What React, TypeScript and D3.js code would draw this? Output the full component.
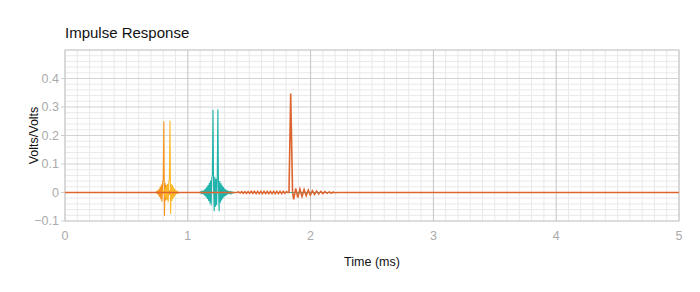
import React from "react";
import * as d3 from "d3";

// ---- data ----
const xTicks = [0, 1, 2, 3, 4, 5];
const yTicks = [-0.1, 0, 0.1, 0.2, 0.3, 0.4];
const xDomain = [0, 5];
const yDomain = [-0.1, 0.5];

// orange burst (sampled every 0.005 ms starting at 0.740 ms)
const orangeStart = 0.74;
const orangeStep = 0.005;
const orangeValues = [
  0, 0.003, -0.005, 0.007, -0.009, 0.012, -0.016, 0.02, -0.024, 0.028, -0.032,
  0.035, 0.045, 0.25, -0.082, 0.033, -0.028, 0.026, -0.022, 0.018, -0.014, 0.011,
  -0.008, 0.006, -0.005, 0.004, -0.003, 0.002, 0,
];

// gold burst (every 0.005 ms from 0.790 ms)
const goldStart = 0.79;
const goldStep = 0.005;
const goldValues = [
  0, 0.003, -0.005, 0.008, -0.011, 0.014, -0.018, 0.022, -0.026, 0.03, -0.034,
  0.036, 0.045, 0.252, -0.075, 0.03, -0.03, 0.026, -0.022, 0.018, -0.015, 0.012,
  -0.009, 0.007, -0.005, 0.003, -0.002, 0,
];

// teal burst (every 0.005 ms from 1.100 ms)
const tealStart = 1.1;
const tealStep = 0.005;
const tealValues = [
  0, 0.002, -0.003, 0.004, -0.005, 0.006, -0.008, 0.01, -0.012, 0.014, -0.017,
  0.02, -0.023, 0.026, -0.03, 0.034, -0.038, 0.042, -0.046, 0.05, 0.06, 0.29,
  0.02, -0.066, 0.055, -0.05, 0.048, -0.045, 0.06, 0.292, 0.02, -0.066, 0.04,
  -0.036, 0.032, -0.028, 0.025, -0.022, 0.019, -0.016, 0.014, -0.012, 0.01,
  -0.009, 0.008, -0.007, 0.006, -0.005, 0.004, -0.004, 0.003, -0.003, 0.002,
  -0.002, 0.001, -0.001, 0,
];

// red-orange: small ripple before the main spike (every 0.013 ms from 1.400 ms)
const redPreStart = 1.4;
const redPreStep = 0.013;
const redPreValues = [
  0, 0.002, -0.002, 0.003, -0.003, 0.003, -0.003, 0.003, -0.003, 0.004, -0.003,
  0.004, -0.004, 0.004, -0.004, 0.004, -0.004, 0.004, -0.004, 0.004, -0.004,
  0.004, -0.004, 0.004, -0.004, 0.004, -0.004, 0.004, -0.004, 0.004, -0.003,
  0.003, 0.0,
];
// main spike
const redSpikeTimes = [1.824, 1.838, 1.853];
const redSpikeValues = [0.0, 0.347, 0.0];
// ringing after the spike (every 0.017 ms from 1.862 ms)
const redPostStart = 1.862;
const redPostStep = 0.017;
const redPostValues = [
  -0.024, 0.014, -0.018, 0.012, -0.014, 0.01, -0.011, 0.008, -0.009, 0.006,
  -0.007, 0.005, -0.005, 0.004, -0.004, 0.003, -0.003, 0.002, -0.002, 0.001,
  -0.001, 0,
];

type Pt = [number, number];

function uniform(start: number, step: number, values: number[]): Pt[] {
  return values.map((v, i) => [start + i * step, v] as Pt);
}

const W = 700;
const H = 292;
const M = { left: 65, right: 21, top: 50, bottom: 71 };

export default function App() {
  const x = d3.scaleLinear().domain(xDomain).range([M.left, W - M.right]);
  const y = d3.scaleLinear().domain(yDomain).range([H - M.bottom, M.top]);
  const line = d3
    .line<Pt>()
    .x((d) => x(d[0]))
    .y((d) => y(d[1]));

  const withEnds = (pts: Pt[]): Pt[] => [[xDomain[0], 0], ...pts, [xDomain[1], 0]];

  const orange = withEnds(uniform(orangeStart, orangeStep, orangeValues));
  const gold = withEnds(uniform(goldStart, goldStep, goldValues));
  const teal = withEnds(uniform(tealStart, tealStep, tealValues));
  const red = withEnds([
    ...uniform(redPreStart, redPreStep, redPreValues),
    ...redSpikeTimes.map((t, i) => [t, redSpikeValues[i]] as Pt),
    ...uniform(redPostStart, redPostStep, redPostValues),
  ]);

  const minorX = d3.range(0, 50).map((i) => i / 10).filter((v) => Math.abs(v - Math.round(v)) > 1e-6);
  const minorY = d3.range(-5, 25).map((i) => i / 50).filter((v) => Math.abs(v * 10 - Math.round(v * 10)) > 1e-6);
  const majorY = d3.range(-1, 6).map((i) => i / 10);

  const font = "'Liberation Sans', Arial, Helvetica, sans-serif";
  const [x0, x1] = x.range();
  const [y0, y1] = y.range();

  return (
    <svg
      width={W}
      height={H}
      style={{ position: "absolute", left: 0, top: 0, background: "#fff" }}
      fontFamily={font}
    >
      <text x={M.left} y={38} fontSize={15} fill="#111">
        Impulse Response
      </text>

      {/* minor grid */}
      {minorX.map((v) => (
        <line key={"mx" + v} x1={x(v)} x2={x(v)} y1={y1} y2={y0} stroke="#e9e9e9" strokeWidth={1} />
      ))}
      {minorY.map((v) => (
        <line key={"my" + v} x1={x0} x2={x1} y1={y(v)} y2={y(v)} stroke="#e9e9e9" strokeWidth={1} />
      ))}
      {/* major grid */}
      {majorY.map((v) => (
        <line key={"My" + v} x1={x0} x2={x1} y1={y(v)} y2={y(v)} stroke="#d2d2d2" strokeWidth={1} />
      ))}
      {xTicks.map((v) => (
        <line key={"Mx" + v} x1={x(v)} x2={x(v)} y1={y1} y2={y0} stroke="#c4c4c4" strokeWidth={1} />
      ))}
      {/* frame */}
      <rect x={x0} y={y1} width={x1 - x0} height={y0 - y1} fill="none" stroke="#cfcfcf" strokeWidth={1} />

      {/* y ticks */}
      {yTicks.map((v) => (
        <g key={"yt" + v}>
          <line x1={x0 - 4} x2={x0} y1={y(v)} y2={y(v)} stroke="#cfcfcf" />
          <text x={x0 - 6} y={y(v)} dy="0.35em" textAnchor="end" fontSize={12.5} fill="#aaaaaa">
            {d3.format("~g")(v)}
          </text>
        </g>
      ))}
      {/* x ticks */}
      {xTicks.map((v) => (
        <text key={"xt" + v} x={x(v)} y={y0 + 19} textAnchor="middle" fontSize={12.5} fill="#aaaaaa">
          {v}
        </text>
      ))}

      {/* axis titles */}
      <text x={x((xDomain[0] + xDomain[1]) / 2)} y={266} textAnchor="middle" fontSize={12.5} fill="#111">
        Time (ms)
      </text>
      <text
        transform={`translate(38,${(y0 + y1) / 2}) rotate(-90)`}
        textAnchor="middle"
        fontSize={12.5}
        fill="#111"
      >
        Volts/Volts
      </text>

      {/* series */}
      <path d={line(orange) ?? ""} fill="none" stroke="#f7941d" strokeWidth={1.1} />
      <path d={line(gold) ?? ""} fill="none" stroke="#fdb827" strokeWidth={1.1} />
      <path d={line(teal) ?? ""} fill="none" stroke="#1fb3aa" strokeWidth={1.1} />
      <path d={line(red) ?? ""} fill="none" stroke="#dd6530" strokeWidth={1.6} />
    </svg>
  );
}
